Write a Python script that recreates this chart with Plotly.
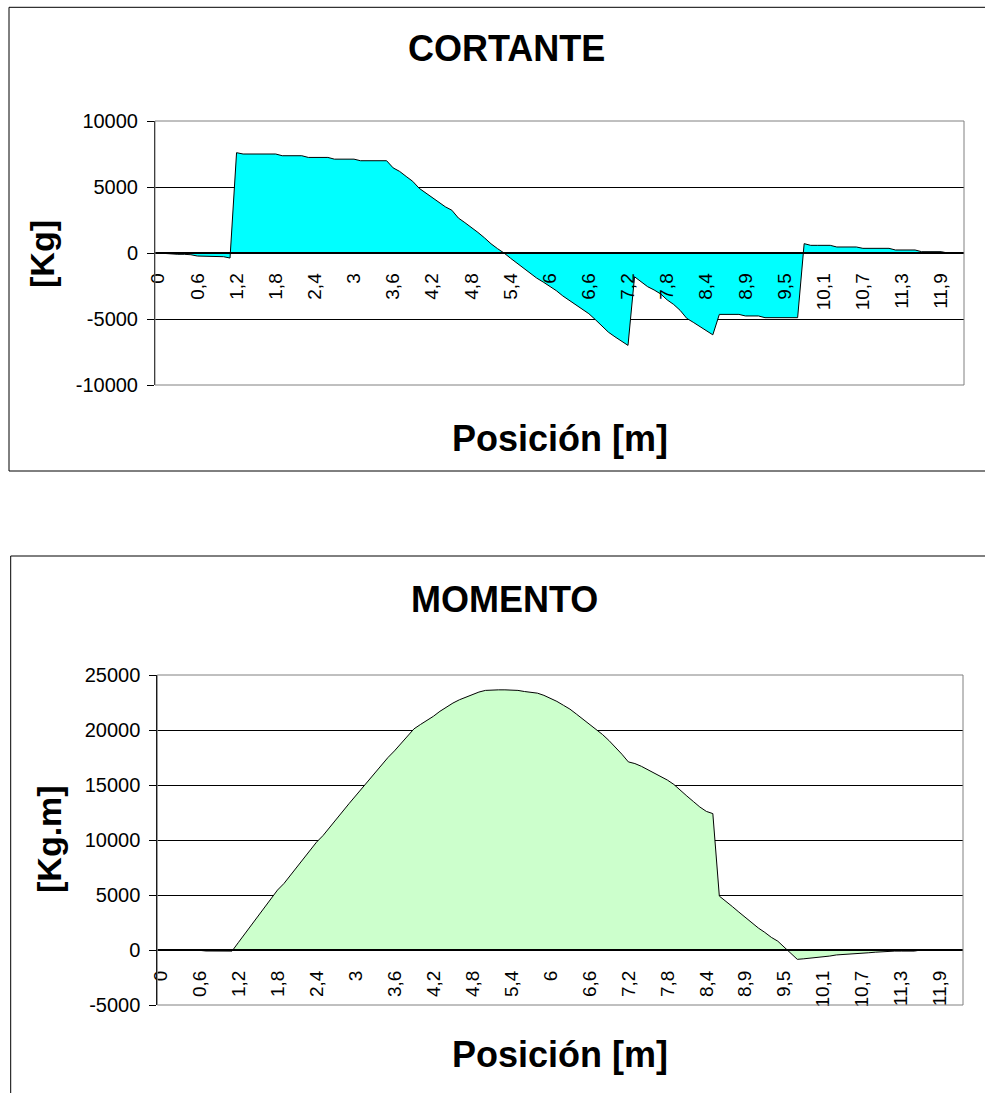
import plotly.graph_objects as go

# Positions along the beam [m]; 8.5 appears twice (concentrated load and moment there)
posiciones = [
    0.0, 0.1, 0.2, 0.3, 0.4, 0.5, 0.6, 0.7, 0.8, 0.9,
    1.0, 1.1, 1.2, 1.3, 1.4, 1.5, 1.6, 1.7, 1.8, 1.9,
    2.0, 2.1, 2.2, 2.3, 2.4, 2.5, 2.6, 2.7, 2.8, 2.9,
    3.0, 3.1, 3.2, 3.3, 3.4, 3.5, 3.6, 3.7, 3.8, 3.9,
    4.0, 4.1, 4.2, 4.3, 4.4, 4.5, 4.6, 4.7, 4.8, 4.9,
    5.0, 5.1, 5.2, 5.3, 5.4, 5.5, 5.6, 5.7, 5.8, 5.9,
    6.0, 6.1, 6.2, 6.3, 6.4, 6.5, 6.6, 6.7, 6.8, 6.9,
    7.0, 7.1, 7.2, 7.3, 7.4, 7.5, 7.6, 7.7, 7.8, 7.9,
    8.0, 8.1, 8.2, 8.3, 8.4, 8.5, 8.5, 8.6, 8.7, 8.8,
    8.9, 9.0, 9.1, 9.2, 9.3, 9.4, 9.5, 9.6, 9.7, 9.8,
    9.9, 10.0, 10.1, 10.2, 10.3, 10.4, 10.5, 10.6, 10.7, 10.8,
    10.9, 11.0, 11.1, 11.2, 11.3, 11.4, 11.5, 11.6, 11.7, 11.8,
    11.9, 12.0, 12.1, 12.2,
]

# Shear force [Kg]
cortante = [
    0, -50, -100, -100, -100, -130, -230, -250, -250, -260,
    -280, -380, 7600, 7500, 7500, 7500, 7500, 7500, 7500, 7370,
    7370, 7370, 7370, 7240, 7240, 7240, 7240, 7110, 7110, 7110,
    7110, 6990, 6990, 6990, 6990, 6990, 6450, 6180, 5800, 5430,
    4900, 4550, 4220, 3850, 3500, 3240, 2650, 2300, 1950, 1560,
    1150, 700, 330, 0, -400, -780, -1150, -1550, -1900, -2200,
    -2500, -2850, -3250, -3600, -3950, -4300, -4600, -5050, -5550, -6000,
    -6350, -6650, -7000, -1800, -2200, -2550, -2800, -3100, -3550, -3900,
    -4350, -4950, -5250, -5550, -5900, -6200, -4650, -4650, -4650, -4650,
    -4770, -4770, -4770, -4900, -4900, -4900, -4900, -4900, -4900, 710,
    580, 580, 580, 580, 455, 455, 455, 455, 354, 354,
    354, 354, 354, 228, 228, 228, 228, 100, 100, 100,
    100, 0, 0, 0,
]

# Bending moment [Kg.m]
momento = [
    0, 0, 0, 0, 0, 0, -30, -90, -100, -100,
    -100, -100, 700, 1500, 2300, 3100, 3850, 4700, 5450, 6050,
    6800, 7550, 8300, 9050, 9800, 10400, 11150, 11900, 12600, 13300,
    14000, 14700, 15500, 16200, 16900, 17500, 18100, 18800, 19450, 20100,
    20500, 20850, 21250, 21700, 22100, 22450, 22750, 23000, 23250, 23450,
    23600, 23650, 23650, 23650, 23650, 23600, 23500, 23450, 23350, 23150,
    22900, 22600, 22250, 21900, 21450, 21000, 20500, 20050, 19600, 19050,
    18450, 17800, 17100, 16950, 16700, 16400, 16100, 15800, 15450, 15050,
    14500, 14000, 13500, 13000, 12600, 12400, 4900, 4450, 3950, 3450,
    2950, 2500, 2000, 1600, 1150, 800, 250, -350, -850, -800,
    -750, -650, -600, -550, -450, -420, -400, -370, -300, -250,
    -200, -150, -120, -100, -100, -100, -100, 0, 0, 0,
    0, 0, 0, 0,
]

# Value-axis ticks
ticks_cortante = [-10000, -5000, 0, 5000, 10000]
ticks_momento = [-5000, 0, 5000, 10000, 15000, 20000, 25000]

W, H = 985, 1093
FONT = "Arial, 'Liberation Sans', sans-serif"


def fx(x):
    return x / W


def fy(y):
    return 1 - y / H


idx = list(range(len(posiciones)))
cat_ticks = idx[::6]
cat_labels = [f"{posiciones[i]:g}".replace(".", ",") for i in cat_ticks]

fig = go.Figure()
fig.add_trace(go.Scatter(
    x=idx, y=cortante, mode="lines", fill="tozeroy",
    fillcolor="#00FFFF", line=dict(color="black", width=1),
    xaxis="x", yaxis="y", hoverinfo="skip", showlegend=False,
))
fig.add_trace(go.Scatter(
    x=idx, y=momento, mode="lines", fill="tozeroy",
    fillcolor="#CCFFCC", line=dict(color="black", width=1),
    xaxis="x2", yaxis="y2", hoverinfo="skip", showlegend=False,
))


def cat_axis(left, right, zero_y):
    return dict(
        domain=[fx(left), fx(right)], range=[-0.5, len(idx) - 0.5],
        anchor="free", position=fy(zero_y),
        showline=True, linecolor="black", linewidth=2,
        tickmode="array", tickvals=cat_ticks, ticktext=cat_labels,
        tickangle=-90, ticks="", showgrid=False, zeroline=False,
        tickfont=dict(family=FONT, size=19, color="black"),
        ticklabelstandoff=12, automargin=False, fixedrange=True,
    )


def val_axis(top, bottom, rng, tvals, anchor):
    return dict(
        domain=[fy(bottom), fy(top)], range=rng, anchor=anchor,
        tickmode="array", tickvals=tvals, ticktext=[str(v) for v in tvals],
        showgrid=True, gridcolor="black", gridwidth=1, zeroline=False,
        showline=True, linecolor="black", linewidth=1,
        ticks="outside", ticklen=7, tickcolor="black", tickwidth=1,
        tickfont=dict(family=FONT, size=20, color="black"),
        ticklabelstandoff=5, automargin=False, fixedrange=True,
    )


fig.update_layout(
    width=W, height=H, margin=dict(l=0, r=0, t=0, b=0),
    paper_bgcolor="white", plot_bgcolor="white",
    xaxis=cat_axis(155, 964, 252.7),
    yaxis=val_axis(121, 385, [-10000, 10000], ticks_cortante, "x"),
    xaxis2=cat_axis(157.3, 963, 950),
    yaxis2=val_axis(675, 1005, [-5000, 25000], ticks_momento, "x2"),
)

# Chart frames and plot-area borders
fig.add_shape(type="rect", xref="paper", yref="paper",
              x0=fx(9), x1=fx(990), y0=fy(471), y1=fy(7.3),
              line=dict(color="black", width=1), layer="below")
fig.add_shape(type="rect", xref="paper", yref="paper",
              x0=fx(10.7), x1=fx(990), y0=fy(1110), y1=fy(556),
              line=dict(color="black", width=1), layer="below")
fig.add_shape(type="rect", xref="x domain", yref="y domain",
              x0=0, x1=1, y0=0, y1=1, line=dict(color="#808080", width=1))
fig.add_shape(type="rect", xref="x2 domain", yref="y2 domain",
              x0=0, x1=1, y0=0, y1=1, line=dict(color="#808080", width=1))


def label(text, x, y, size=36, angle=0):
    fig.add_annotation(
        text=f"<b>{text}</b>", x=fx(x), y=fy(y), xref="paper", yref="paper",
        xanchor="center", yanchor="middle", showarrow=False, textangle=angle,
        font=dict(family=FONT, size=size, color="black"),
    )


label("CORTANTE", 506, 49)
label("Posición [m]", 560, 438)
label("[Kg]", 42, 254, size=34, angle=-90)
label("MOMENTO", 504, 599)
label("Posición [m]", 560, 1054)
label("[Kg.m]", 49, 839, size=34, angle=-90)

fig.write_html("out.html")
